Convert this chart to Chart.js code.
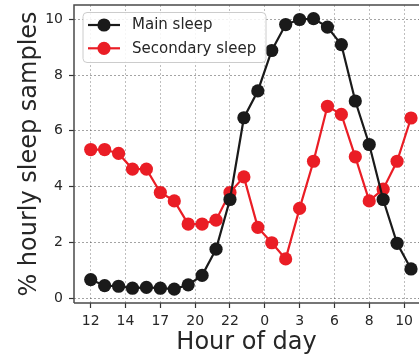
<!DOCTYPE html>
<html>
<head>
<meta charset="utf-8">
<script src="https://cdn.jsdelivr.net/npm/chart.js@4.4.0/dist/chart.umd.min.js"></script>
<style>
  html, body { margin: 0; padding: 0; background: #fff; overflow: hidden; }
  #wrap { width: 419px; height: 361px; }
</style>
</head>
<body>
<div id="wrap"><canvas id="c" width="419" height="361"></canvas></div>
<script>
// ---- data ----
const hourIndex = [0,1,2,3,4,5,6,7,8,9,10,11,12,13,14,15,16,17,18,19,20,21,22,23];
const mainSleep = [0.67,0.45,0.43,0.36,0.39,0.36,0.33,0.48,0.82,1.76,3.54,6.47,7.43,8.88,9.81,9.99,10.02,9.72,9.09,7.07,5.51,3.54,1.97,1.05];
const secondarySleep = [5.33,5.33,5.19,4.63,4.63,3.79,3.49,2.66,2.66,2.80,3.79,4.35,2.54,1.99,1.41,3.22,4.91,6.88,6.59,5.07,3.49,3.91,4.91,6.46];
const xTickPositions = [0,2.5,5,7.5,10,12.5,15,17.5,20,22.5];
const xTickLabels = ['12','14','17','20','22','0','3','6','8','10'];
const yTickValues = [0,2,4,6,8,10];
const seriesNames = ['Main sleep','Secondary sleep'];

const FONT = "'DejaVu Sans', sans-serif";
const TEXT = '#262626';
const BLACK = '#1a1a1a';
const RED = '#ea1d25';

const toPts = arr => arr.map((v, i) => ({x: hourIndex[i], y: v}));

const framePlugin = {
  id: 'frame',
  afterDraw(chart) {
    const {ctx, chartArea: a} = chart;
    ctx.save();
    ctx.setLineDash([]);
    ctx.strokeStyle = '#4a4a4a';
    ctx.lineWidth = 1.5;
    ctx.beginPath();
    ctx.moveTo(a.left, a.bottom);
    ctx.lineTo(a.left, a.top);
    ctx.lineTo(a.right + 2, a.top);
    ctx.moveTo(a.left, a.bottom);
    ctx.lineTo(a.right + 2, a.bottom);
    ctx.stroke();

    // legend inside plot
    const bx = 83, by = 12.5, bw = 183, bh = 50;
    ctx.beginPath();
    ctx.roundRect(bx, by, bw, bh, 4);
    ctx.fillStyle = 'rgba(255,255,255,0.85)';
    ctx.fill();
    ctx.strokeStyle = '#cccccc';
    ctx.lineWidth = 1;
    ctx.stroke();
    chart.data.datasets.forEach((ds, i) => {
      const y = 25 + i * 23.3;
      ctx.strokeStyle = ds.borderColor;
      ctx.lineWidth = 2.2;
      ctx.beginPath();
      ctx.moveTo(88, y);
      ctx.lineTo(120, y);
      ctx.stroke();
      ctx.fillStyle = ds.backgroundColor;
      ctx.beginPath();
      ctx.arc(104, y, 6.6, 0, Math.PI * 2);
      ctx.fill();
      ctx.fillStyle = TEXT;
      ctx.font = "15px " + FONT;
      ctx.textBaseline = 'middle';
      ctx.textAlign = 'left';
      ctx.fillText(ds.label, 132, y + 0.5);
    });
    ctx.restore();
  }
};

new Chart(document.getElementById('c'), {
  type: 'line',
  data: {
    datasets: [
      {label: seriesNames[0], data: toPts(mainSleep), borderColor: BLACK, backgroundColor: BLACK,
       borderWidth: 2.2, pointRadius: 6.6, pointBorderWidth: 0, pointBackgroundColor: BLACK, tension: 0},
      {label: seriesNames[1], data: toPts(secondarySleep), borderColor: RED, backgroundColor: RED,
       borderWidth: 2.2, pointRadius: 6.6, pointBorderWidth: 0, pointBackgroundColor: RED, tension: 0}
    ]
  },
  options: {
    responsive: false,
    animation: false,
    layout: {autoPadding: false, padding: {top: 5, right: 0, left: 0, bottom: 0}},
    plugins: {legend: {display: false}, tooltip: {enabled: false}},
    scales: {
      x: {
        type: 'linear',
        min: -1.2, max: 23.574,
        afterBuildTicks: s => { s.ticks = xTickPositions.map(v => ({value: v})); },
        afterFit: s => { s.height = 58; s.paddingLeft = 0; s.paddingRight = 0; },
        ticks: {
          callback: (v) => xTickLabels[xTickPositions.indexOf(v)],
          font: {family: FONT, size: 14}, color: TEXT, padding: 5, maxRotation: 0, autoSkip: false
        },
        grid: {color: 'rgba(0,0,0,0.32)', lineWidth: 0.8, tickLength: 5, tickColor: '#333', tickWidth: 1.2},
        border: {display: false, dash: [2, 2]},
        title: {display: true, text: 'Hour of day', font: {family: FONT, size: 24}, color: TEXT, padding: {top: 0, bottom: 4}}
      },
      y: {
        type: 'linear',
        min: -0.17, max: 10.51,
        afterBuildTicks: s => { s.ticks = yTickValues.map(v => ({value: v})); },
        afterFit: s => { s.width = 74; s.paddingTop = 0; s.paddingBottom = 0; },
        ticks: {font: {family: FONT, size: 14}, color: TEXT, padding: 6},
        grid: {color: 'rgba(0,0,0,0.45)', lineWidth: 0.8, tickLength: 5, tickColor: '#333', tickWidth: 1.2},
        border: {display: false, dash: [2, 2]},
        title: {display: true, text: '% hourly sleep samples', font: {family: FONT, size: 24}, color: TEXT, padding: {top: 15, bottom: 0}}
      }
    }
  },
  plugins: [framePlugin]
});
</script>
</body>
</html>
